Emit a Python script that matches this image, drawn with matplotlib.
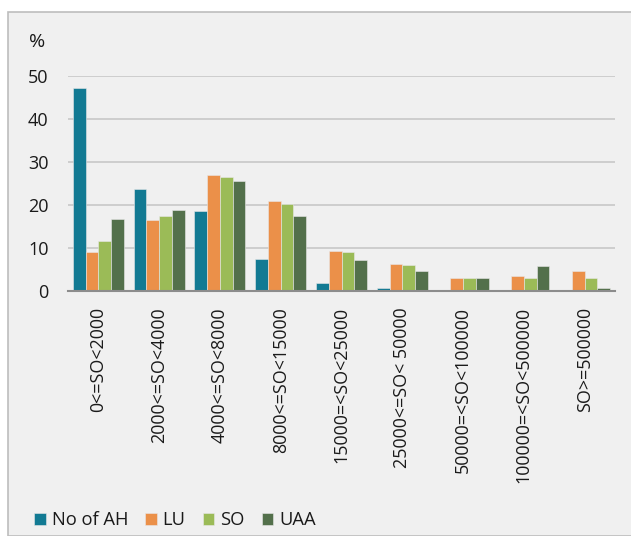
import matplotlib.pyplot as plt
import numpy as np
from matplotlib.patches import Rectangle

#%%
categories = ['0<=SO<2000', '2000<=SO<4000', '4000<=SO<8000', '8000<=SO<15000',
              '15000=<SO<25000', '25000<=SO< 50000', '50000=<SO<100000',
              '100000=<SO<500000', 'SO>=500000']
no_of_ah = [47.3, 23.6, 18.5, 7.4, 1.8, 0.6, 0.0, 0.0, 0.0]
lu = [8.9, 16.4, 26.9, 20.9, 9.25, 6.2, 3.0, 3.4, 4.6]
so = [11.6, 17.4, 26.5, 20.1, 9.0, 6.1, 2.9, 2.9, 3.0]
uaa = [16.6, 18.9, 25.5, 17.4, 7.1, 4.7, 3.0, 5.8, 0.6]

series = [('No of AH', no_of_ah, '#127a93'),
          ('LU', lu, '#eb9049'),
          ('SO', so, '#9bbb57'),
          ('UAA', uaa, '#53704b')]

bg = '#f0f0f0'
plt.rcParams['font.family'] = ['Open Sans', 'DejaVu Sans']

#%%
fig = plt.figure(figsize=(6.31, 5.36), dpi=100)
fig.patch.set_facecolor('white')
frame = Rectangle((8/631, 0), 1, 1 - 12/536, transform=fig.transFigure,
                  facecolor=bg, edgecolor='#bdbdbd', linewidth=1.2, zorder=-10)
fig.add_artist(frame)

ax = fig.add_axes([68/631, 1 - 290.7/536, (615 - 68)/631, (290.7 - 76)/536])
ax.set_facecolor(bg)

x = np.arange(len(categories))
w = 0.21
for i, (name, vals, col) in enumerate(series):
    ax.bar(x + (i - 1.5)*w, vals, w, color=col, label=name, zorder=3,
           edgecolor='#e8e8e8', linewidth=0.4)

ax.set_xlim(-0.5, len(categories) - 0.5)
ax.set_ylim(0, 50)
ax.set_yticks([0, 10, 20, 30, 40, 50])
ax.yaxis.grid(True, color='#c8c8c8', linewidth=1.2, zorder=0)
for s in ['top', 'right', 'left']:
    ax.spines[s].set_visible(False)
ax.spines['bottom'].set_color('#8c8c8c')
ax.spines['bottom'].set_linewidth(1.5)
ax.spines['bottom'].set_zorder(4)

ax.set_xticks(x)
ax.set_xticklabels(categories, rotation=90, fontsize=12.9, color='#1a1a1a')
ax.tick_params(axis='x', length=0, pad=12)
ax.tick_params(axis='y', length=0, pad=14, labelsize=13, labelcolor='#1a1a1a')

fig.text(37/631, 1 - 42/536, '%', fontsize=14, ha='center', va='center', color='#1a1a1a')

leg = fig.legend(loc='center left', bbox_to_anchor=(34/631, 1 - 520/536), ncol=4,
                 frameon=False, fontsize=13.2, handlelength=0.63, handleheight=0.63,
                 handletextpad=0.33, columnspacing=0.93, borderaxespad=0, borderpad=0)
for t in leg.get_texts():
    t.set_color('#1a1a1a')

fig.savefig('out.png', dpi=100, facecolor=fig.get_facecolor())
